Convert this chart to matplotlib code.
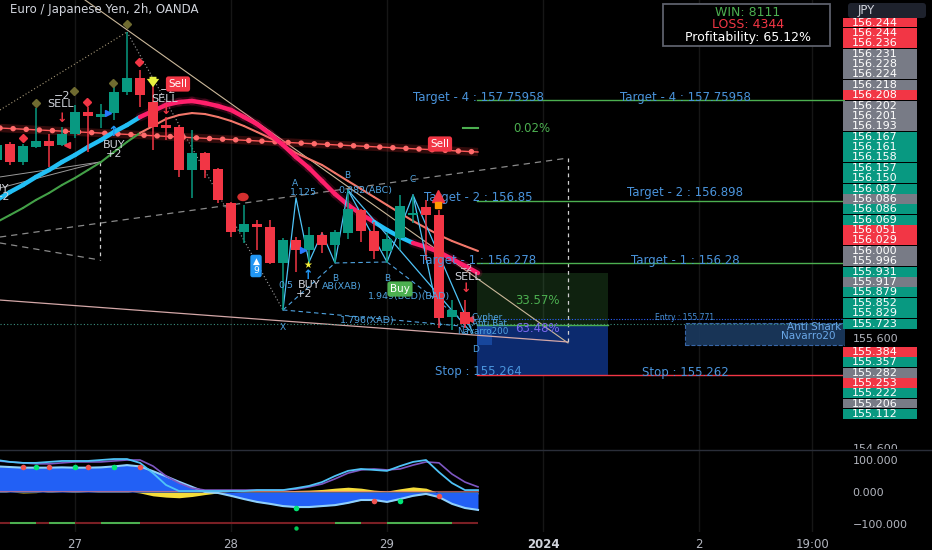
import matplotlib
matplotlib.use("Agg")
import matplotlib.pyplot as plt
from matplotlib.patches import Rectangle, FancyBboxPatch, Ellipse
from matplotlib.collections import LineCollection

# ---------------- DATA ----------------
bar_index = list(range(-6, 31))
opens  = [157.218, 157.364, 157.200, 157.336, 157.391, 157.355, 157.455, 157.655, 157.609, 157.645,
          157.836, 157.964, 157.745, 157.536, 157.518, 157.127, 157.282, 157.136, 156.827, 156.564,
          156.636, 156.609, 156.282, 156.491, 156.400, 156.536, 156.445, 156.555, 156.764, 156.573,
          156.391, 156.509, 156.718, 156.791, 156.718, 155.791, 155.836]
highs  = [157.400, 157.382, 157.364, 157.691, 157.455, 157.518, 157.718, 157.700, 157.727, 157.900,
          158.382, 158.036, 157.900, 157.609, 157.536, 157.491, 157.291, 157.145, 156.836, 156.809,
          156.673, 156.673, 156.509, 156.518, 156.609, 156.564, 156.582, 156.945, 156.773, 156.655,
          156.555, 156.900, 156.900, 156.855, 156.764, 155.945, 155.945]
lows   = [157.173, 157.173, 157.173, 157.327, 157.155, 157.345, 157.418, 157.291, 157.509, 157.582,
          157.809, 157.700, 157.309, 157.400, 157.064, 156.873, 157.055, 156.827, 156.518, 156.464,
          156.400, 156.273, 155.855, 156.200, 156.282, 156.373, 156.282, 156.500, 156.473, 156.318,
          156.282, 156.400, 156.645, 156.309, 155.691, 155.673, 155.691]
closes = [157.355, 157.200, 157.345, 157.391, 157.345, 157.455, 157.655, 157.618, 157.636, 157.836,
          157.964, 157.809, 157.518, 157.509, 157.127, 157.282, 157.127, 156.855, 156.564, 156.636,
          156.609, 156.282, 156.491, 156.400, 156.536, 156.445, 156.564, 156.773, 156.573, 156.391,
          156.500, 156.800, 156.736, 156.718, 155.782, 155.855, 155.723]

ind_index = list(range(-6, 32))
ma_fast = [156.855, 156.927, 156.991, 157.064, 157.127, 157.200, 157.264, 157.336, 157.400, 157.473,
           157.536, 157.609, 157.664, 157.718, 157.745, 157.755, 157.736, 157.709, 157.673, 157.609,
           157.545, 157.455, 157.355, 157.245, 157.145, 157.027, 156.909, 156.809, 156.727, 156.655,
           156.582, 156.518, 156.464, 156.427, 156.382, 156.318, 156.255, 156.191]
ma_fast_up = [1]*12 + [0]*18 + [1]*3 + [0]*5
ma_slow = [156.655, 156.718, 156.782, 156.855, 156.918, 156.991, 157.055, 157.127, 157.200, 157.291,
           157.382, 157.464, 157.527, 157.591, 157.627, 157.645, 157.636, 157.609, 157.573, 157.527,
           157.473, 157.418, 157.355, 157.282, 157.227, 157.173, 157.100, 157.027, 156.955, 156.882,
           156.809, 156.736, 156.664, 156.600, 156.536, 156.482, 156.436, 156.391]
ma_slow_up = [1]*12 + [0]*26

wt1 = [100, 94, 91, 91, 94, 97, 97, 97, 100, 103, 103, 91, 59, 22, 3, 3, 3, 3, 3, 3, 6, 6, 6, 12, 19,
       31, 50, 66, 72, 69, 66, 81, 94, 100, 62, 28, 6, 6]
wt2 = [97, 94, 91, 88, 88, 91, 94, 94, 94, 97, 100, 100, 81, 50, 28, 12, 6, 6, 6, 6, 6, 6, 6, 9, 16,
       25, 41, 59, 69, 72, 69, 72, 84, 94, 91, 56, 31, 16]
mf  = [80, 78, 76, 76, 76, 77, 76, 76, 77, 80, 84, 80, 65, 49, 32, 16, 0, -3, -12, -22, -31, -37, -44,
       -47, -47, -44, -41, -34, -25, -25, -31, -22, -12, -6, -16, -37, -50, -56]
yl  = [5, 0, -3, -2, 2, 0, 2, 0, 2, 3, 2, -3, -12, -16, -18, -14, -8, -3, 0, 2, 3, 3, 3, 5, 6, 8, 12,
       15, 12, 6, 3, 10, 16, 12, -3, -12, -8, -6]
osc_sig = [0, 1, 1, 0, 1, 1, 0, 0, 1, 1, 1, 0] + [0]*14 + [1, 1, 0, 0, 1, 1, 1, 1, 1, 0, 0, 0]
osc_sig_level = -97
dots_red_idx = [-4, -2, 1, 5, 23, 28]; dots_red_val = [78, 78, 78, 78, -28, -12]
dots_grn_idx = [-3, 0, 3, 17, 25];     dots_grn_val = [78, 78, 78, -50, -28]
dot_low_idx, dot_low_val = 17, -112

# drawings (bar index, price)
trend_main = ([0.77, 37.92], [158.673, 155.555])
trend_low = ([-5.77, 37.92], [155.945, 155.564])
chan_up = ([-5.77, 37.92], [156.518, 157.236])
chan_lo = ([-5.77, 1.92], [156.464, 156.309])
fan_a = ([-5.77, 1.92], [157.064, 157.200])
fan_b = ([-5.77, 1.92], [156.964, 157.200])
dot_a = ([-5.77, 4], [157.673, 158.382])
dot_b = ([4, 16], [158.382, 155.855])
resist = ([-5.77, 31.0], [157.509, 157.291])
vert_lines = [(1.92, 157.200, 156.309), (37.92, 157.236, 155.555)]
harm1 = ([16, 17, 18, 19, 20, 21], [155.855, 156.873, 156.291, 156.555, 156.282, 156.945])
harm2 = ([21, 24, 26, 28.1], [156.945, 156.291, 156.900, 155.718])
harm_extra = [([21, 30.3], [156.945, 155.673]), ([26, 30.6], [156.900, 155.645])]
harm_dash = [([16, 20], [155.855, 156.282]), ([20, 24], [156.282, 156.291]),
             ([16, 30.5], [155.855, 155.700]), ([24, 30.5], [156.291, 155.700])]

pos_start, pos_end = 30.92, 41.0
tp_price, entry_price, sl_price = 156.191, 155.718, 155.264
entry_label_price = 155.771
last_price = 155.723
tgt_left_vals = [157.75958, 156.85, 156.278, 155.264]
tgt_left_txt = ["Target - 4 : 157.75958", "Target - 2 : 156.85", "Target - 1 : 156.278", "Stop : 155.264"]
tgt_right_vals = [157.75958, 156.898, 156.28, 155.262]
tgt_right_txt = ["Target - 4 : 157.75958", "Target - 2 : 156.898", "Target - 1 : 156.28", "Stop : 155.262"]
shark_box = (46.9, 155.536, 155.736)

tags_top = ['156.244', '156.244', '156.236', '156.231', '156.228', '156.224', '156.218', '156.208',
            '156.202', '156.201', '156.193', '156.167', '156.161', '156.158', '156.157', '156.150',
            '156.087', '156.086', '156.086', '156.069', '156.051', '156.029', '156.000', '155.996',
            '155.931', '155.917', '155.879', '155.852', '155.829', '155.723']
tags_top_kind = list('rrrggggrgggttttttgttrrggtgtttt')
tags_low = ['155.384', '155.357', '155.282', '155.253', '155.222', '155.206', '155.112']
tags_low_kind = list('rtgrtgt')

x_tick_pos = [0, 12, 24, 36, 48, 56.7]
x_tick_lab = ['27', '28', '29', '2024', '2', '19:00']

# ---------------- STYLE / LAYOUT ----------------
GREEN = '#089981'; RED = '#f23645'; GRAY = '#787b86'
TXT = '#b2b5be'; BLT = '#4a94dc'; LGREEN = '#4caf50'
CYAN = '#22bff5'; PINK = '#ff1f6b'; SALMON = '#f2776a'

W, H = 932, 550
MAIN_BOT, OSC_BOT, PLOT_R = 450, 532, 845
fig = plt.figure(figsize=(W / 100, H / 100), dpi=100, facecolor='black')
ax = fig.add_axes([0, 1 - MAIN_BOT / H, PLOT_R / W, MAIN_BOT / H])
axo = fig.add_axes([0, 1 - OSC_BOT / H, PLOT_R / W, (OSC_BOT - MAIN_BOT) / H])
ov = fig.add_axes([0, 0, 1, 1])
ov.set_xlim(0, W); ov.set_ylim(H, 0); ov.axis('off'); ov.patch.set_alpha(0)

BAR0_PX, BAR_PX = 75, 13
PREF, PREF_PX, PX_YEN = 155.6, 338, 110
def XI(px): return (px - BAR0_PX) / BAR_PX
def PY(py): return PREF + (PREF_PX - py) / PX_YEN
def DP(dpx): return dpx / PX_YEN

for a in (ax, axo):
    a.set_facecolor('black')
    for s in a.spines.values():
        s.set_visible(False)
    a.set_xlim(XI(0), XI(PLOT_R))
    for xt in x_tick_pos:
        a.axvline(xt, color='#161616', lw=1, zorder=0)
ax.set_ylim(PY(MAIN_BOT), PY(0))
OZ, O100 = 492, 32
axo.set_ylim((OZ - OSC_BOT) * 100 / O100, (OZ - MAIN_BOT) * 100 / O100)

ax.yaxis.tick_right()
ax.set_yticks([154.6, 155.6]); ax.set_yticklabels(['154.600', '155.600'])
ax.set_xticks([])
ax.tick_params(axis='y', length=0, pad=5.5, labelsize=8, labelcolor=TXT)
axo.yaxis.tick_right()
axo.set_yticks([100, 0, -100]); axo.set_yticklabels(['100.000', '0.000', '\u2212100.000'])
axo.set_xticks(x_tick_pos); axo.set_xticklabels(x_tick_lab)
axo.tick_params(axis='y', length=0, pad=5.5, labelsize=8, labelcolor=TXT)
axo.tick_params(axis='x', length=0, pad=4, labelsize=8.5, labelcolor=TXT)
lab = axo.get_xticklabels()[3]; lab.set_fontweight('bold'); lab.set_color('#d1d4dc')

def seg_lines(a, xs, ys, states, c_on, c_off, lw, z, glow_off=False):
    segs = [[(xs[k], ys[k]), (xs[k + 1], ys[k + 1])] for k in range(len(xs) - 1)]
    cols = [c_on if states[k + 1] else c_off for k in range(len(xs) - 1)]
    if glow_off:
        gs = [s for s, st in zip(segs, states[1:]) if not st]
        a.add_collection(LineCollection(gs, colors=c_off, linewidths=lw * 2.0, alpha=0.15, zorder=z - 0.1, capstyle='round'))
    a.add_collection(LineCollection(segs, colors=cols, linewidths=lw, zorder=z, capstyle='round'))

# ---------------- MAIN PANE ----------------
ax.plot(*trend_main, color='#cbb89a', lw=0.8, zorder=2)
ax.plot(*trend_low, color='#d4a8a8', lw=0.9, zorder=2)
ax.plot(*chan_up, color='#8a8a8a', lw=0.9, ls=(0, (5, 4)), zorder=2)
ax.plot(*chan_lo, color='#8a8a8a', lw=0.9, ls=(0, (5, 4)), zorder=2)
ax.plot(*fan_a, color='#9a9a9a', lw=0.7, zorder=2)
ax.plot(*fan_b, color='#9a9a9a', lw=0.7, zorder=2)
ax.plot(*dot_a, color='#a89a7a', lw=0.8, ls=(0, (1, 2)), zorder=2)
ax.plot(*dot_b, color='#a0a0a0', lw=0.8, ls=(0, (1, 2)), zorder=2)
for xv, y1, y2 in vert_lines:
    ax.plot([xv, xv], [y1, y2], color='#cfcfcf', lw=0.9, ls=(0, (3, 3)), zorder=2)
ax.axhline(last_price, color='#3a8f7f', lw=0.8, ls=(0, (1, 2)), zorder=2)

# position tool
ax.add_patch(Rectangle((pos_start, entry_price), pos_end - pos_start, tp_price - entry_price,
                       fc=LGREEN, alpha=0.2, ec='none', zorder=1))
ax.add_patch(Rectangle((pos_start, sl_price), pos_end - pos_start, entry_price - sl_price,
                       fc='#0c2a6e', ec='none', zorder=1))
ax.add_patch(Rectangle((pos_start, PY(345)), XI(492) - pos_start, entry_price - PY(345),
                       fc='#1d52b0', alpha=0.7, ec='none', zorder=1.2))
ax.plot([pos_start, pos_end], [entry_price, entry_price], color=LGREEN, lw=1, zorder=2)
ax.plot([pos_start, XI(PLOT_R)], [entry_label_price, entry_label_price], color='#2962ff', lw=0.8,
        ls=(0, (1, 1.5)), zorder=2)
ax.text(XI(685), entry_label_price + DP(1.5), 'Entry : 155.771', color=BLT, fontsize=5.5, ha='center', va='center', zorder=6)
ax.add_patch(Rectangle((shark_box[0], shark_box[1]), XI(PLOT_R + 5) - shark_box[0], shark_box[2] - shark_box[1],
                       fc='#1b3a60', alpha=0.9, ec='#3d6fb6', lw=0.8, ls='--', zorder=1.5))
ax.text(XI(787), PY(327), 'Anti Shark', color='#6aa8e8', fontsize=7.5, ha='left', va='center', clip_on=True, zorder=6)
ax.text(XI(781), PY(336), 'Navarro20', color='#6aa8e8', fontsize=7.5, ha='left', va='center', clip_on=True, zorder=6)

# targets
for v, t in zip(tgt_left_vals, tgt_left_txt):
    col = RED if t.startswith('Stop') else LGREEN
    ax.plot([pos_start, XI(PLOT_R)], [v, v], color=col, lw=1, zorder=2)
    ax.text(XI(478), v + DP(3), t, color=BLT, fontsize=8.5, ha='center', va='center', zorder=6)
for v, t in zip(tgt_right_vals, tgt_right_txt):
    ax.text(XI(685), v + DP(3), t, color=BLT, fontsize=8.5, ha='center', va='center', zorder=6)
ax.plot([XI(463), XI(478)], [PY(128), PY(128)], color=LGREEN, lw=1.5, zorder=6)
ax.text(XI(532), PY(129), '0.02%', color=LGREEN, fontsize=8.5, ha='center', va='center', zorder=6)
ax.text(XI(537), PY(300), '33.57%', color=LGREEN, fontsize=8.5, ha='center', va='center', zorder=6)
ax.text(XI(537), PY(329), '63.48%', color='#7b68ee', fontsize=8.5, ha='center', va='center', zorder=6)

# harmonic patterns
ax.plot(*harm1, color='#4fc3f7', lw=0.9, zorder=3.5)
ax.plot(*harm2, color='#4fc3f7', lw=0.9, zorder=3.5)
for xs, ys in harm_extra:
    ax.plot(xs, ys, color='#4fc3f7', lw=0.9, zorder=3.5)
for xs, ys in harm_dash:
    ax.plot(xs, ys, color='#4fa3e0', lw=0.8, ls=(0, (4, 3)), zorder=3.5)

# resistance dots
ax.plot(*resist, color='#ff3b3b', lw=6, alpha=0.2, zorder=2.5, solid_capstyle='butt')
ax.plot(*resist, color='#ff5a5a', lw=1.0, zorder=2.6)
ax.plot(*resist, color='#ff6b6b', lw=4.0, ls=(0, (0.01, 2.35)), dash_capstyle='round', zorder=2.7)

# moving averages
seg_lines(ax, ind_index, ma_slow, ma_slow_up, '#43a047', SALMON, 1.5, 3)
seg_lines(ax, ind_index, ma_fast, ma_fast_up, CYAN, PINK, 3.2, 3.2, glow_off=True)

# candles
cols = [GREEN if c >= o else RED for o, c in zip(opens, closes)]
ax.vlines(bar_index, lows, highs, colors=cols, lw=1.1, zorder=4)
ax.bar(bar_index, [max(abs(c - o), 0.012) for o, c in zip(opens, closes)],
       bottom=[min(o, c) for o, c in zip(opens, closes)], width=0.72, color=cols, zorder=4.5)

# signal markers and labels
def T(px, py, s, color, size, ha='center', **kw):
    ax.text(XI(px), PY(py), s, color=color, fontsize=size, ha=ha, va='center', clip_on=True, zorder=7, **kw)

for px, py in [(127, 24), (113, 83), (74, 91), (36, 103)]:
    ax.plot(XI(px), PY(py), marker='D', ms=4.5, color='#6f6b30', zorder=7)
for px, py in [(139, 62), (87, 102), (23, 138)]:
    ax.plot(XI(px), PY(py), marker='D', ms=4.5, color=RED, zorder=7)
for px, py in [(62, 118), (166, 111), (466, 288)]:
    T(px, py, '\u2193', RED, 9, fontweight='bold')
T(113, 132, '\u2191', '#2196f3', 10, fontweight='bold')
T(308, 275, '\u2191', '#2196f3', 9, fontweight='bold')
T(308, 265, '\u2605', '#f5ef3a', 7)
for px, py in [(108, 113), (303, 250)]:
    ax.plot(XI(px), PY(py), marker='>', ms=5, color='#2979ff', zorder=7)
for px, py in [(67, 145), (470, 319)]:
    ax.plot(XI(px), PY(py), marker='<', ms=5, color=RED, zorder=7)
ax.annotate('', xy=(XI(153), PY(90)), xytext=(XI(153), PY(74)),
            arrowprops=dict(arrowstyle='simple,head_width=0.9,head_length=0.6,tail_width=0.5',
                            color='#e8f040', lw=0), zorder=7)
ax.plot(XI(438), PY(196), marker='^', ms=9, color=RED, zorder=7)
ax.plot(XI(438), PY(205), marker='s', ms=4, color='#ff9800', zorder=7)
ax.add_patch(Ellipse((XI(243), PY(197)), 10 / BAR_PX, DP(7), color='#d32f2f', zorder=7))

T(62, 96, '\u22122', '#d1d4dc', 8)
T(61, 104, 'SELL', '#d1d4dc', 8)
T(168, 90, '\u22122', '#d1d4dc', 8)
T(165, 99, 'SELL', '#d1d4dc', 8)
T(114, 145, 'BUY', '#d1d4dc', 8)
T(114, 154, '+2', '#d1d4dc', 8)
T(-2, 189, 'BUY', '#d1d4dc', 8)
T(2, 197, '+2', '#d1d4dc', 8)
T(468, 277, 'SELL', '#d1d4dc', 8)
T(466, 268, '\u22122', '#d1d4dc', 6.5)
T(309, 285, 'BUY', '#d1d4dc', 8)
T(304, 294, '+2', '#d1d4dc', 8)

for px, py, s in [(178, 84, 'Sell'), (440, 144, 'Sell')]:
    ax.text(XI(px), PY(py), s, color='white', fontsize=7.5, ha='center', va='center', zorder=7.5,
            bbox=dict(boxstyle='round,pad=0.25', fc='#f23645', ec='none'))
ax.text(XI(400), PY(289), 'Buy', color='white', fontsize=7.5, ha='center', va='center', zorder=7.5,
        bbox=dict(boxstyle='round,pad=0.25', fc=LGREEN, ec='none'))
ax.text(XI(256), PY(266), '\u25b2\n9', color='white', fontsize=6.5, ha='center', va='center', zorder=7.5,
        linespacing=1.0, bbox=dict(boxstyle='round,pad=0.25', fc='#2196f3', ec='none'))

PC = '#4fa3e0'
T(283, 328, 'X', PC, 6.5)
T(295, 184, 'A', PC, 6.5)
T(347, 175, 'B', PC, 6.5)
T(413, 180, 'C', PC, 6.5)
T(335, 278, 'B', PC, 6.5)
T(387, 278, 'B', PC, 6.5)
T(476, 350, 'D', PC, 6.5)
T(290, 192, '1.125', PC, 6.8, ha='left')
T(338, 191, '0.382(ABC)', PC, 6.8, ha='left')
T(278, 286, '0.5', PC, 6.8, ha='left')
T(322, 287, 'AB(XAB)', PC, 6.8, ha='left')
T(368, 297, '1.949(BCD)(BAD)', PC, 6.8, ha='left')
T(340, 321, '1.796(XAD)', PC, 6.8, ha='left')
T(471, 317, 'Cypher', PC, 6.3, ha='left')
T(472, 324, 'Anti Bat', PC, 6.3, ha='left')
T(457, 331, 'Navarro200', PC, 6.3, ha='left')

# ---------------- OSCILLATOR ----------------
axo.fill_between(ind_index, 0, yl, color='#f5dc3a', lw=0, zorder=2)
axo.fill_between(ind_index, 0, mf, color='#2260f5', lw=0, zorder=3)
axo.plot(ind_index, mf, color='#8fd0fb', lw=1.5, zorder=3.5)
axo.plot(ind_index, wt2, color='#7e57c2', lw=1.2, zorder=4)
axo.plot(ind_index, wt1, color='#4fc3f7', lw=1.3, zorder=4.5)
axo.plot([ind_index[0], ind_index[-1]], [2, 2], color='#e57373', lw=0.8, alpha=0.7, zorder=3.8)
sig_segs = [[(ind_index[k], osc_sig_level), (ind_index[k + 1], osc_sig_level)] for k in range(len(ind_index) - 1)]
axo.add_collection(LineCollection(sig_segs, colors=[LGREEN if s else '#7a1f24' for s in osc_sig[:-1]],
                                  linewidths=1.5, zorder=3))
axo.scatter(dots_red_idx, dots_red_val, s=16, color='#ef5350', zorder=6, lw=0)
axo.scatter(dots_grn_idx, dots_grn_val, s=16, color='#00e676', zorder=6, lw=0)
axo.scatter([dot_low_idx], [dot_low_val], s=10, color='#00c853', zorder=6, lw=0)

# ---------------- OVERLAY (title, info box, price tags) ----------------
ov.add_patch(Rectangle((PLOT_R, 448.5), W - PLOT_R, 7, fc='black', ec='none', zorder=3))
ov.plot([0, W], [450, 450], color='#2a2e39', lw=1, zorder=4)
ov.text(10, 10, 'Euro / Japanese Yen, 2h, OANDA', color='#d1d4dc', fontsize=8.5, ha='left', va='center')
ov.add_patch(Rectangle((663, 4), 167, 42, fc='black', ec='#5d606b', lw=1.3, zorder=5))
ov.text(748, 12.5, 'WIN: 8111', color=LGREEN, fontsize=9, ha='center', va='center', zorder=6)
ov.text(748, 25, 'LOSS: 4344', color=RED, fontsize=9, ha='center', va='center', zorder=6)
ov.text(748, 37.5, 'Profitability: 65.12%', color='white', fontsize=9, ha='center', va='center', zorder=6)

TAG_COL = {'r': RED, 't': GREEN, 'g': GRAY}
def draw_tags(vals, kinds, y0, step):
    y = y0
    for v, k in zip(vals, kinds):
        ov.add_patch(Rectangle((843, y - step / 2 + 0.2), 74, step - 0.4, fc=TAG_COL[k], ec='none', zorder=5))
        ov.text(852, y, v, color='white', fontsize=8, ha='left', va='center', zorder=6)
        y += step
draw_tags(tags_top, tags_top_kind, 22.5, 10.38)
draw_tags(tags_low, tags_low_kind, 352, 10.3)
ov.add_patch(FancyBboxPatch((848, 3), 78, 15, boxstyle='round,pad=0,rounding_size=3',
                            fc='#1e222d', ec='none', zorder=7))
ov.text(858, 10.5, 'JPY', color='#d1d4dc', fontsize=8.5, ha='left', va='center', zorder=8)

fig.savefig('out.png', dpi=100, facecolor='black')
